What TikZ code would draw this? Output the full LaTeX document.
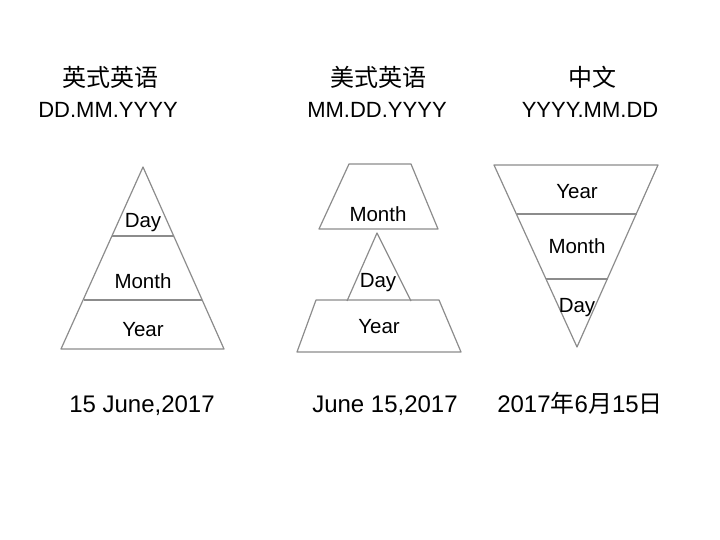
\documentclass[tikz,border=0pt]{standalone}
\usepackage{fontspec}
\setmainfont{Liberation Sans}
\newfontfamily\cjk{Noto Sans CJK SC}
\begin{document}
\begin{tikzpicture}[x=1pt,y=-1pt,
    edge/.style={draw=black!45,line width=1.2pt,line join=round},
    lbl/.style={font=\fontsize{20.5}{24}\selectfont,inner sep=0pt,anchor=base},
    ttl/.style={font=\cjk\fontsize{24}{28}\selectfont,inner sep=0pt},
    fmt/.style={font=\fontsize{22}{26}\selectfont,inner sep=0pt,anchor=base},
    date/.style={font=\fontsize{24}{28}\selectfont,inner sep=0pt,anchor=base}]
  \useasboundingbox (0,0) rectangle (720,540);
  \path
    (110,77) node[ttl] (t1){英式英语}
    (378,77) node[ttl] (t2){美式英语}
    (592,77) node[ttl] (t3){中文}
    (108,118) node[fmt] (f1){DD.MM.YYYY}
    (377,118) node[fmt] (f2){MM.DD.YYYY}
    (590,118) node[fmt] (f3){YYYY.MM.DD}
    (142,412) node[date] (d1){15 June,2017}
    (385,412) node[date] (d2){June 15,2017}
    (580,412) node[date] (d3){2017{\cjk 年}6{\cjk 月}15{\cjk 日}};
  % british
  \draw[edge] (61,349) -- (143,167) -- (224,349) -- cycle;
  \draw[edge] (112,236) -- (174,236);
  \draw[edge] (84,300) -- (202,300);
  \path
    (143,227) node[lbl] (day1){Day}
    (143,288) node[lbl] (mon1){Month}
    (143,336) node[lbl] (yr1){Year};
  % american
  \draw[edge] (349,164) -- (411,164) -- (438,229) -- (319,229) -- cycle;
  \draw[edge] (347,301) -- (377,233) -- (411,301);
  \draw[edge] (316,300) -- (439,300) -- (461,352) -- (297,352) -- cycle;
  \path
    (378,222) node[lbl] (mon2){Month}
    (378,287) node[lbl] (day2){Day}
    (379,333) node[lbl] (yr2){Year};
  % chinese
  \draw[edge] (494,165) -- (658,165) -- (577,347) -- cycle;
  \draw[edge] (517,214) -- (637,214);
  \draw[edge] (546,279) -- (608,279);
  \path
    (577,199) node[lbl] (yr3){Year}
    (577,254) node[lbl] (mon3){Month}
    (577,312) node[lbl] (day3){Day};
\end{tikzpicture}
\end{document}
